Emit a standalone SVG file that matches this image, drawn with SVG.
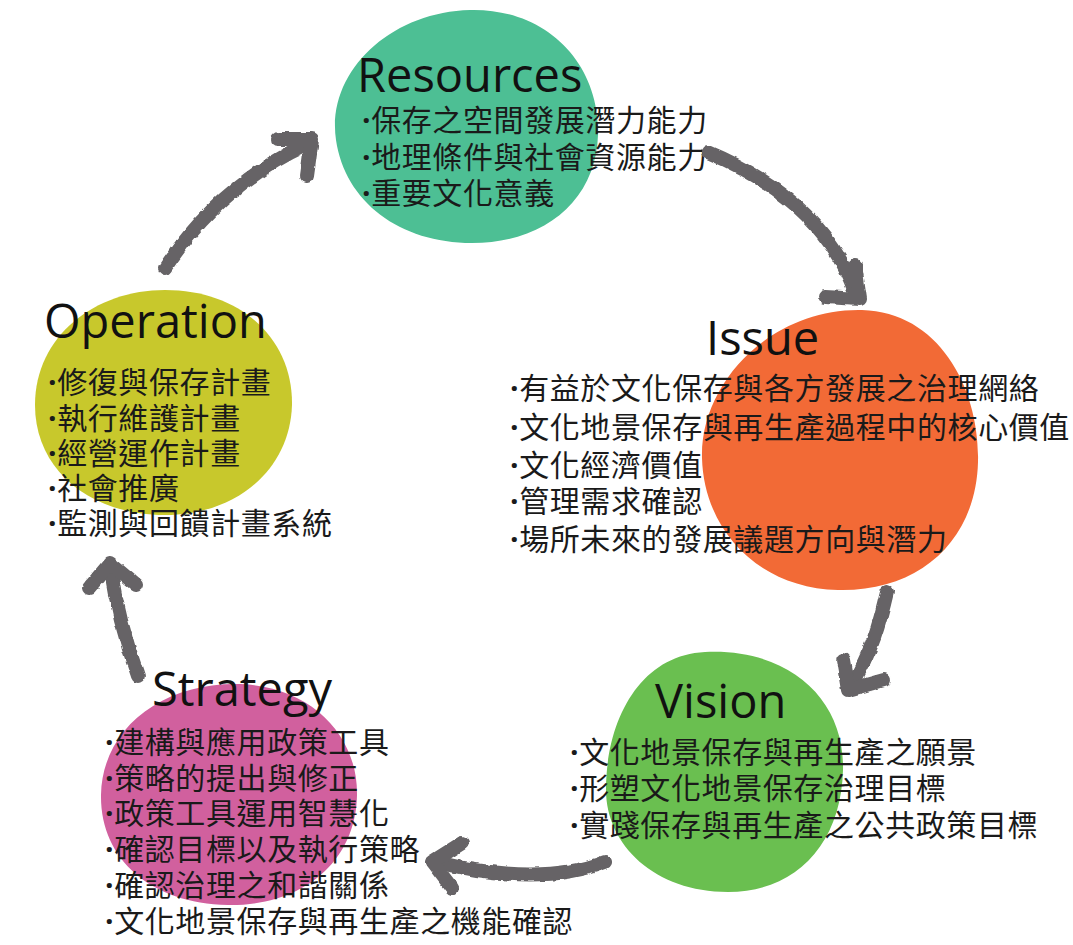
<svg xmlns="http://www.w3.org/2000/svg" width="1073" height="945" viewBox="0 0 1073 945">
<style>
.title{font-family:"Open Sans","Noto Sans",sans-serif;font-size:47px;fill:#111}
.item{font-family:"Noto Sans CJK TC","Noto Sans CJK SC",sans-serif;font-size:30px;fill:#1a1a1a;letter-spacing:0.6px}
.dot{font-family:"Open Sans","Liberation Sans",sans-serif;font-size:30px;font-weight:bold}
.arrow{fill:none;stroke:#666466;stroke-width:14;stroke-linecap:round;stroke-linejoin:round}
.head{fill:none;stroke:#666466;stroke-width:14;stroke-linecap:round;stroke-linejoin:round}
</style>
<defs>
<filter id="brush" x="-10%" y="-10%" width="120%" height="120%">
<feTurbulence type="fractalNoise" baseFrequency="0.12" numOctaves="2" seed="3"/>
<feDisplacementMap in="SourceGraphic" scale="4" xChannelSelector="R" yChannelSelector="G"/>
</filter>
</defs>
<rect width="1073" height="945" fill="#fff"/>

<g id="resources">
<path d="M 470 10 C 545 8 600 62 598 135 C 596 200 545 243 472 243 C 400 243 345 202 336 140 C 326 72 390 12 470 10 Z" fill="#4DBF94"/>
<text class="title" x="357" y="92">Resources</text>
<text class="item" x="362" y="131"><tspan class="dot">·</tspan>保存之空間發展潛力能力</text>
<text class="item" x="362" y="168"><tspan class="dot">·</tspan>地理條件與社會資源能力</text>
<text class="item" x="362" y="204"><tspan class="dot">·</tspan>重要文化意義</text>
</g>

<g id="issue">
<path d="M 862 310 C 940 312 980 390 978 462 C 976 540 920 592 838 590 C 758 588 704 530 702 458 C 700 382 772 308 862 310 Z" fill="#F26A36"/>
<text class="title" x="706" y="355">Issue</text>
<text class="item" x="510" y="399"><tspan class="dot">·</tspan>有益於文化保存與各方發展之治理網絡</text>
<text class="item" x="510" y="438"><tspan class="dot">·</tspan>文化地景保存與再生產過程中的核心價值</text>
<text class="item" x="510" y="476"><tspan class="dot">·</tspan>文化經濟價值</text>
<text class="item" x="510" y="512"><tspan class="dot">·</tspan>管理需求確認</text>
<text class="item" x="510" y="550"><tspan class="dot">·</tspan>場所未來的發展議題方向與潛力</text>
</g>

<g id="vision">
<path d="M 705 652 C 790 648 845 700 843 770 C 841 845 795 892 728 892 C 655 892 606 845 606 790 C 606 720 640 655 705 652 Z" fill="#6ABF50"/>
<text class="title" x="655" y="718">Vision</text>
<text class="item" x="570" y="763"><tspan class="dot">·</tspan>文化地景保存與再生產之願景</text>
<text class="item" x="570" y="799"><tspan class="dot">·</tspan>形塑文化地景保存治理目標</text>
<text class="item" x="570" y="836"><tspan class="dot">·</tspan>實踐保存與再生產之公共政策目標</text>
</g>

<g id="strategy">
<path d="M 235 684 C 310 684 358 735 357 795 C 356 860 305 906 228 905 C 150 904 100 858 101 795 C 102 730 160 684 235 684 Z" fill="#D1609E"/>
<text class="title" x="152" y="706">Strategy</text>
<text class="item" x="105" y="753"><tspan class="dot">·</tspan>建構與應用政策工具</text>
<text class="item" x="105" y="789"><tspan class="dot">·</tspan>策略的提出與修正</text>
<text class="item" x="105" y="824"><tspan class="dot">·</tspan>政策工具運用智慧化</text>
<text class="item" x="105" y="860"><tspan class="dot">·</tspan>確認目標以及執行策略</text>
<text class="item" x="105" y="896"><tspan class="dot">·</tspan>確認治理之和諧關係</text>
<text class="item" x="105" y="932"><tspan class="dot">·</tspan>文化地景保存與再生產之機能確認</text>
</g>

<g id="operation">
<path d="M 165 290 C 242 290 293 340 292 405 C 290 470 236 515 165 515 C 90 515 35 470 35 405 C 35 336 95 290 165 290 Z" fill="#C8C82C"/>
<text class="title" x="44" y="338">Operation</text>
<text class="item" x="48" y="393"><tspan class="dot">·</tspan>修復與保存計畫</text>
<text class="item" x="48" y="429"><tspan class="dot">·</tspan>執行維護計畫</text>
<text class="item" x="48" y="464"><tspan class="dot">·</tspan>經營運作計畫</text>
<text class="item" x="48" y="499"><tspan class="dot">·</tspan>社會推廣</text>
<text class="item" x="48" y="534"><tspan class="dot">·</tspan>監測與回饋計畫系統</text>
</g>

<g id="connectors" filter="url(#brush)">
<path class="arrow" d="M 165 268 Q 220 185 306 145"/>
<path class="head" d="M 278 139 L 312 139 L 307 176"/>
<path class="arrow" d="M 708 152 Q 822 200 855 292"/>
<path class="head" d="M 825 297 L 860 299 L 855 265"/>
<path class="arrow" d="M 887 592 C 880 622 872 652 851 686"/>
<path class="head" d="M 843 660 L 848 690 L 884 680"/>
<path class="arrow" d="M 605 862 Q 540 887 436 862"/>
<path class="head" d="M 462 843 L 432 862 L 452 888"/>
<path class="arrow" d="M 138 676 Q 118 620 110 566"/>
<path class="head" d="M 89 588 L 110 563 L 136 585"/>
</g>
</svg>
